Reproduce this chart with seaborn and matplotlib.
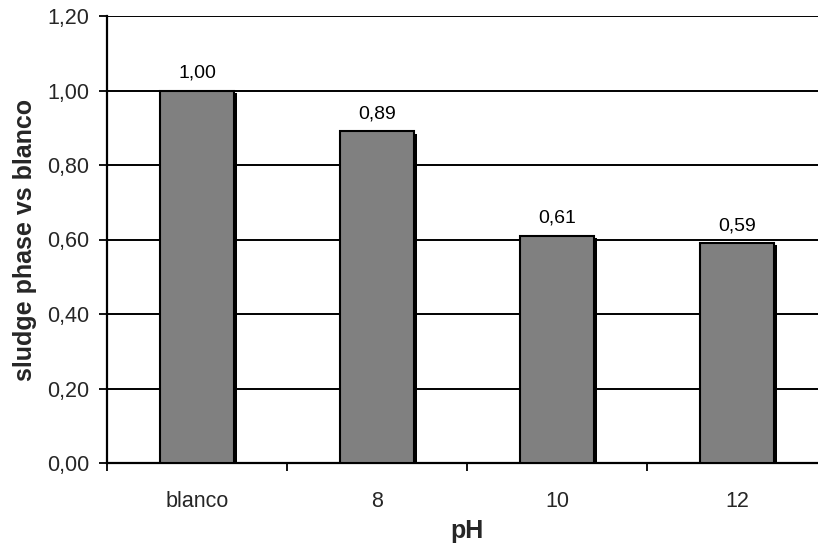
import matplotlib
matplotlib.use("Agg")
import matplotlib.pyplot as plt
import matplotlib.patheffects as pe
import seaborn as sns
import pandas as pd
import numpy as np

categories = ["blanco", "8", "10", "12"]
values = [1.00, 0.89, 0.61, 0.59]
y_ticks = [0.0, 0.2, 0.4, 0.6, 0.8, 1.0, 1.2]

sns.set_theme(style="white")
plt.rcParams["font.family"] = ["Liberation Sans", "DejaVu Sans"]

df = pd.DataFrame({"pH": categories, "ratio": values})

fig = plt.figure(figsize=(8.18, 5.47), dpi=100)
ax = fig.add_axes([107 / 818, 84 / 547, 720 / 818, 447 / 547])

sns.barplot(data=df, x="pH", y="ratio", order=categories, color="#808080",
            saturation=1, width=0.41, edgecolor="black", linewidth=1.5,
            ax=ax, zorder=3)

for p in ax.patches:
    p.set_path_effects([
        pe.SimplePatchShadow(offset=(2.2, -1.5), shadow_rgbFace="black", alpha=1),
        pe.Normal(),
    ])

for i, v in enumerate(values):
    ax.text(i, v + 0.024, f"{v:.2f}".replace(".", ","), ha="center", va="bottom",
            fontsize=14, color="black", zorder=4)

ax.set_ylim(0, 1.2)
ax.set_xlim(-0.5, len(categories) - 0.5)
ax.set_yticks(y_ticks)
ax.set_yticklabels([f"{t:.2f}".replace(".", ",") for t in y_ticks], fontsize=15.5)
for t in y_ticks[1:]:
    ax.axhline(t, color="black", linewidth=1.4, zorder=1)

ax.set_xticks(range(len(categories)))
ax.set_xticklabels(categories, fontsize=15.5)
ax.set_xticks(np.arange(-0.5, len(categories), 1.0), minor=True)
ax.tick_params(axis="x", which="major", length=0, pad=20)
ax.tick_params(axis="x", which="minor", length=6, width=1.3, direction="out",
               color="black", bottom=True)
ax.tick_params(axis="y", length=6, width=1.3, direction="out", color="black",
               left=True, pad=7)

for side in ["left", "bottom"]:
    ax.spines[side].set_color("black")
    ax.spines[side].set_linewidth(1.6)
ax.spines["top"].set_visible(False)
ax.spines["right"].set_visible(False)

ax.set_xlabel("pH", fontsize=18, fontweight="bold", labelpad=5)
ax.set_ylabel("sludge phase vs blanco", fontsize=18, fontweight="bold", labelpad=7)

fig.savefig("out.png", dpi=100)
